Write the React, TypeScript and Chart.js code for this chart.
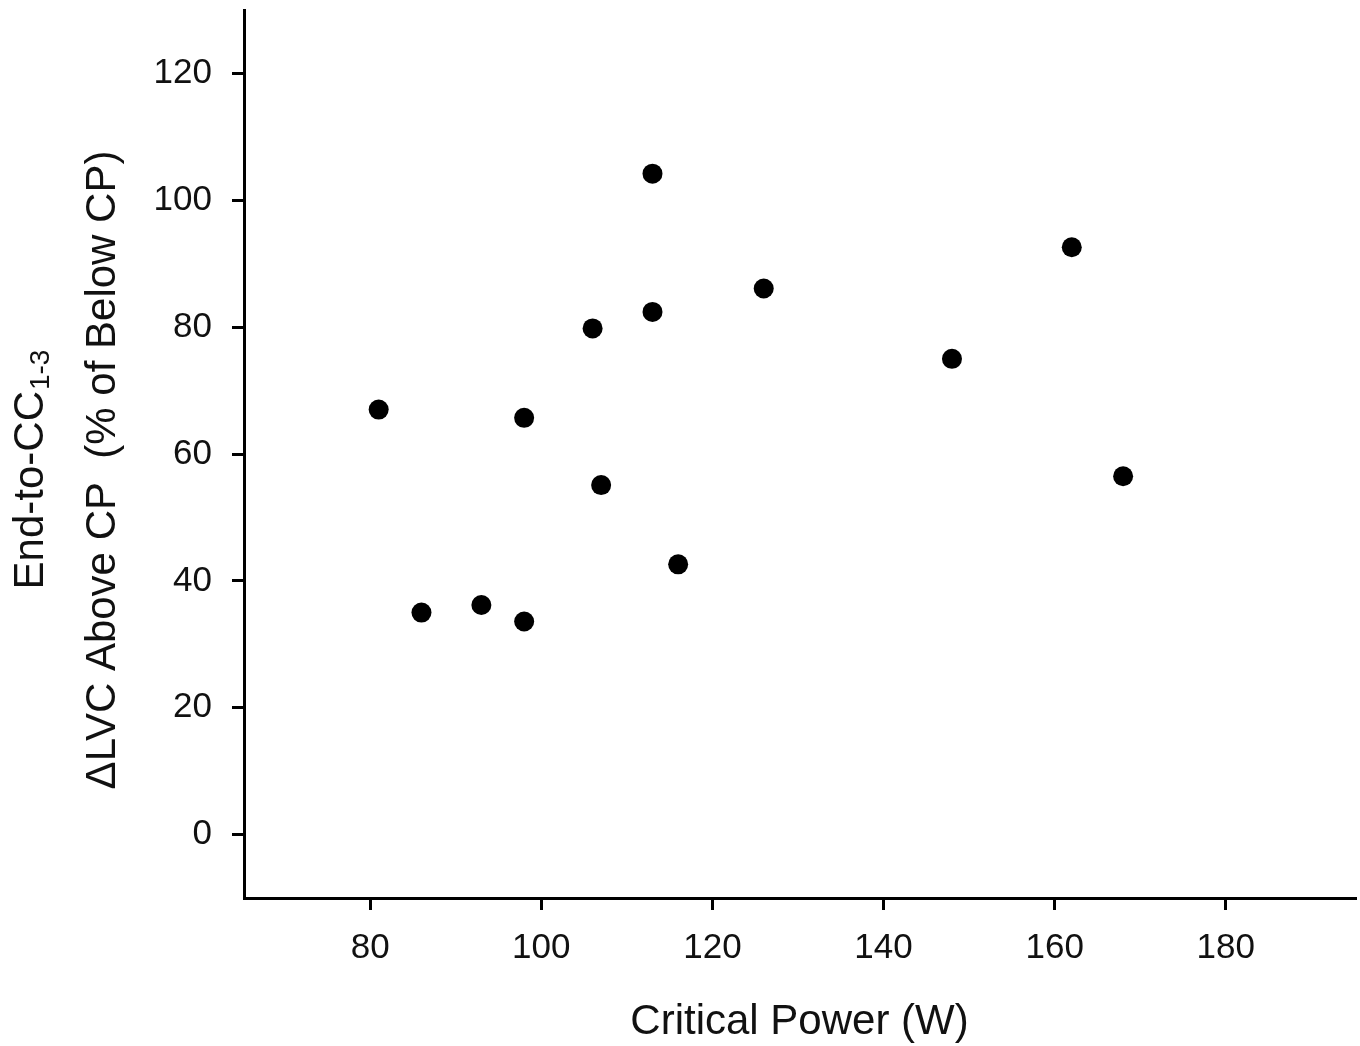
import React, { useEffect, useRef } from "react";
import { Chart, registerables } from "chart.js";

Chart.register(...registerables);

const criticalPower = [81, 86, 93, 98, 98, 106, 107, 113, 113, 116, 126, 148, 162, 168];
const deltaLVC = [67, 35, 36.2, 33.6, 65.7, 79.8, 55.1, 104.2, 82.4, 42.6, 86.1, 75, 92.6, 56.5];
const xTicks = [80, 100, 120, 140, 160, 180];
const yTicks = [0, 20, 40, 60, 80, 100, 120];
const xTitle = "Critical Power (W)";
const yTitleMain = "End-to-CC";
const yTitleSub = "1-3";
const yTitleLine2 = "\u0394LVC Above CP  (% of Below CP)";

const FONT = "'Liberation Sans', Arial, sans-serif";

const titlePlugin = {
  id: "customTitles",
  afterDraw(chart: any) {
    const ctx = chart.ctx as CanvasRenderingContext2D;
    const area = chart.chartArea;
    ctx.save();
    ctx.fillStyle = "#111";
    ctx.font = `42px ${FONT}`;
    ctx.textAlign = "center";
    ctx.textBaseline = "middle";
    ctx.fillText(xTitle, (area.left + area.right) / 2, 1022);

    const cy = 470;
    ctx.translate(0, cy);
    ctx.rotate(-Math.PI / 2);
    ctx.textAlign = "left";
    ctx.textBaseline = "middle";
    ctx.font = `42px ${FONT}`;
    const w1 = ctx.measureText(yTitleMain).width;
    ctx.font = `28px ${FONT}`;
    const w2 = ctx.measureText(yTitleSub).width;
    const start = -(w1 + w2) / 2;
    ctx.font = `42px ${FONT}`;
    ctx.fillText(yTitleMain, start, 31);
    ctx.font = `28px ${FONT}`;
    ctx.fillText(yTitleSub, start + w1 + 1, 41);
    ctx.font = `42px ${FONT}`;
    ctx.textAlign = "center";
    ctx.fillText(yTitleLine2, 0, 103);
    ctx.restore();
  },
};

export default function App() {
  const ref = useRef<HTMLCanvasElement | null>(null);
  useEffect(() => {
    if (!ref.current) return;
    const chart = new Chart(ref.current, {
      type: "scatter",
      data: {
        datasets: [
          {
            data: criticalPower.map((x, i) => ({ x, y: deltaLVC[i] })),
            backgroundColor: "#000",
            borderColor: "#000",
            pointRadius: 10,
            pointHoverRadius: 10,
            borderWidth: 0,
          },
        ],
      },
      options: {
        responsive: false,
        animation: false,
        layout: { autoPadding: false, padding: { top: 10, right: 5, left: 0, bottom: 0 } },
        plugins: { legend: { display: false }, tooltip: { enabled: false } },
        scales: {
          x: {
            type: "linear",
            min: 65.26,
            max: 195.1,
            afterBuildTicks: (s: any) => {
              s.ticks = xTicks.map((v) => ({ value: v }));
            },
            afterFit: (s: any) => {
              s.height = 148;
              s.paddingLeft = 0;
              s.paddingRight = 0;
            },
            grid: {
              drawOnChartArea: false,
              drawTicks: true,
              tickLength: 12,
              color: "#000",
              lineWidth: 3,
            },
            border: { display: true, color: "#000", width: 3 },
            ticks: {
              color: "#111",
              font: { family: FONT, size: 35 },
              padding: 17,
              maxRotation: 0,
            },
          },
          y: {
            type: "linear",
            min: -10,
            max: 130,
            afterBuildTicks: (s: any) => {
              s.ticks = yTicks.map((v) => ({ value: v }));
            },
            afterFit: (s: any) => {
              s.width = 244;
              s.paddingTop = 0;
              s.paddingBottom = 0;
            },
            grid: {
              drawOnChartArea: false,
              drawTicks: true,
              tickLength: 12,
              color: "#000",
              lineWidth: 3,
            },
            border: { display: true, color: "#000", width: 3 },
            ticks: {
              color: "#111",
              font: { family: FONT, size: 35 },
              padding: 20,
            },
          },
        },
      },
      plugins: [titlePlugin],
    } as any);
    return () => chart.destroy();
  }, []);
  return (
    <div style={{ position: "fixed", left: 0, top: 0, width: 1360, height: 1046, background: "#fff" }}>
      <canvas ref={ref} width={1360} height={1046} />
    </div>
  );
}
